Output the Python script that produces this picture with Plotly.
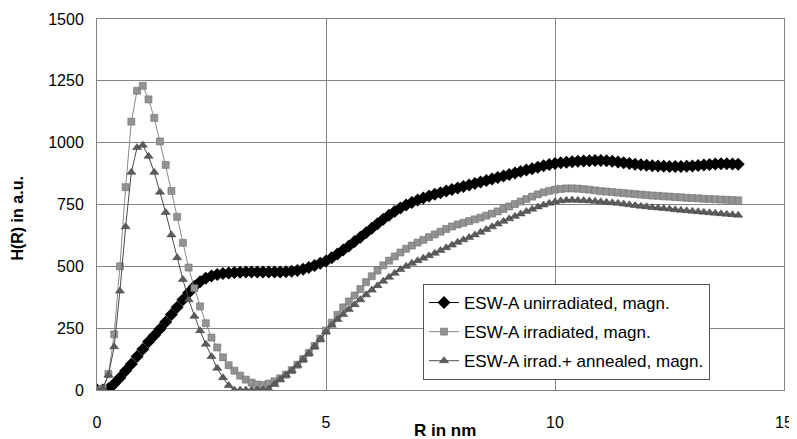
import plotly.graph_objects as go

R_nm = [
    0, 0.125, 0.25, 0.375, 0.5, 0.625, 0.75, 0.875,
    1, 1.125, 1.25, 1.375, 1.5, 1.625, 1.75, 1.875,
    2, 2.125, 2.25, 2.375, 2.5, 2.625, 2.75, 2.875,
    3, 3.125, 3.25, 3.375, 3.5, 3.625, 3.75, 3.875,
    4, 4.125, 4.25, 4.375, 4.5, 4.625, 4.75, 4.875,
    5, 5.125, 5.25, 5.375, 5.5, 5.625, 5.75, 5.875,
    6, 6.125, 6.25, 6.375, 6.5, 6.625, 6.75, 6.875,
    7, 7.125, 7.25, 7.375, 7.5, 7.625, 7.75, 7.875,
    8, 8.125, 8.25, 8.375, 8.5, 8.625, 8.75, 8.875,
    9, 9.125, 9.25, 9.375, 9.5, 9.625, 9.75, 9.875,
    10, 10.125, 10.25, 10.375, 10.5, 10.625, 10.75, 10.875,
    11, 11.125, 11.25, 11.375, 11.5, 11.625, 11.75, 11.875,
    12, 12.125, 12.25, 12.375, 12.5, 12.625, 12.75, 12.875,
    13, 13.125, 13.25, 13.375, 13.5, 13.625, 13.75, 13.875,
    14,
]

unirradiated = [
    0, 0, 5, 25, 50, 78, 105, 135,
    165, 195, 220, 247, 275, 305, 335, 365,
    393, 418, 438, 452, 461, 467, 471, 473,
    475, 476, 477, 477, 477, 477, 477, 477,
    477, 478, 480, 483, 488, 495, 503, 512,
    522, 535, 550, 566, 582, 600, 618, 636,
    654, 672, 690, 707, 722, 736, 748, 758,
    768, 776, 784, 791, 798, 805, 811, 817,
    823, 829, 835, 841, 847, 853, 859, 865,
    871, 877, 883, 889, 895, 901, 907, 912,
    916, 919, 921, 923, 925, 926, 927, 928,
    928, 927, 925, 922, 919, 916, 913, 911,
    909, 907, 906, 905, 904, 904, 904, 905,
    906, 908, 910, 912, 914, 915, 915, 914,
    913,
]

irradiated = [
    0, 5, 65, 225, 500, 820, 1085, 1210,
    1230, 1175, 1100, 1005, 910, 805, 700, 595,
    495, 412, 338, 270, 212, 172, 132, 100,
    78, 58, 42, 30, 22, 20, 26, 35,
    47, 62, 80, 102, 125, 150, 178, 208,
    240, 272, 304, 334, 358, 382, 408, 436,
    460, 483, 504, 523, 540, 556, 571, 584,
    596, 607, 618, 629, 640, 651, 661, 669,
    676, 683, 690, 697, 705, 713, 722, 732,
    742, 752, 762, 772, 782, 791, 799, 805,
    810, 813, 815, 815, 814, 812, 810, 807,
    804, 802, 800, 798, 796, 794, 792, 790,
    788, 786, 785, 783, 782, 780, 779, 777,
    776, 775, 773, 772, 771, 770, 769, 768,
    767,
]

annealed = [
    0, 5, 60, 175, 400, 660, 880, 980,
    990, 945, 880, 800, 718, 627, 535, 447,
    365, 298, 240, 185, 135, 88, 50, 18,
    0, 0, 0, 0, 0, 0, 4, 22,
    42, 60, 78, 100, 123, 148, 176, 205,
    235, 262, 285, 305, 325, 345, 365, 385,
    404, 422, 440, 456, 472, 487, 500, 512,
    523, 533, 543, 553, 564, 575, 586, 597,
    607, 617, 627, 638, 649, 660, 671, 682,
    692, 702, 712, 722, 731, 740, 748, 755,
    761, 765, 767, 768, 767, 766, 765, 763,
    761, 759, 757, 755, 752, 749, 746, 743,
    741, 738, 736, 734, 732, 729, 727, 725,
    723, 721, 719, 717, 715, 713, 711, 709,
    707,
]

series_names = [
    "ESW-A unirradiated, magn.",
    "ESW-A irradiated, magn.",
    "ESW-A irrad.+ annealed, magn.",
]

x_ticks = [0, 5, 10, 15]
y_ticks = [0, 250, 500, 750, 1000, 1250, 1500]

FONT = "Liberation Sans, Arial, sans-serif"

fig = go.Figure()
fig.add_trace(go.Scatter(
    x=R_nm, y=unirradiated, name=series_names[0], mode="lines+markers",
    legendgroup="a",
    line=dict(color="#000000", width=1),
    marker=dict(symbol="diamond", size=10, color="#000000",
                line=dict(color="#000000", width=0)),
))
fig.add_trace(go.Scatter(
    x=R_nm, y=irradiated, name=series_names[1], mode="lines+markers",
    legendgroup="b",
    line=dict(color="#8a8a8a", width=1),
    marker=dict(symbol="square", size=7, color="#939393",
                line=dict(color="#707070", width=0.6)),
))
fig.add_trace(go.Scatter(
    x=R_nm, y=annealed, name=series_names[2], mode="lines+markers",
    legendgroup="c",
    line=dict(color="#4a4a4a", width=1),
    marker=dict(symbol="triangle-up", size=8, color="#5c5c5c",
                line=dict(color="#3c3c3c", width=0.5)),
))

fig.update_layout(
    width=797, height=439,
    margin=dict(l=89, r=21, t=11, b=57),
    paper_bgcolor="white", plot_bgcolor="white",
    font=dict(family=FONT, size=16, color="#000000"),
    showlegend=True,
    legend=dict(
        x=0.4745, y=0.027, xanchor="left", yanchor="bottom",
        bgcolor="white", bordercolor="#555555", borderwidth=1,
        font=dict(family=FONT, size=17, color="#000000"),
        tracegroupgap=4,
    ),
    xaxis=dict(
        range=[0, 15], tickvals=x_ticks, ticktext=[str(v) for v in x_ticks],
        showgrid=True, gridcolor="#848484", gridwidth=1,
        zeroline=False, showline=True, linecolor="#848484", linewidth=1,
        mirror=True, ticks="", tickfont=dict(size=16), ticklabelstandoff=18,
        automargin=False,
    ),
    yaxis=dict(
        range=[0, 1500], tickvals=y_ticks, ticktext=[str(v) for v in y_ticks],
        showgrid=True, gridcolor="#848484", gridwidth=1,
        zeroline=False, showline=True, linecolor="#848484", linewidth=1,
        mirror=True, ticks="", tickfont=dict(size=16), ticklabelstandoff=9,
        automargin=False,
    ),
    annotations=[
        dict(text="<b>R in nm</b>", x=0.5066, y=-0.108, xref="paper", yref="paper",
             xanchor="center", yanchor="middle", showarrow=False,
             font=dict(family=FONT, size=17, color="#000000")),
        dict(text="<b>H(R) in a.u.</b>", x=-0.115, y=0.462, xref="paper", yref="paper",
             xanchor="center", yanchor="middle", showarrow=False, textangle=-90,
             font=dict(family=FONT, size=16, color="#000000")),
    ],
)

fig.write_html("out.html")
